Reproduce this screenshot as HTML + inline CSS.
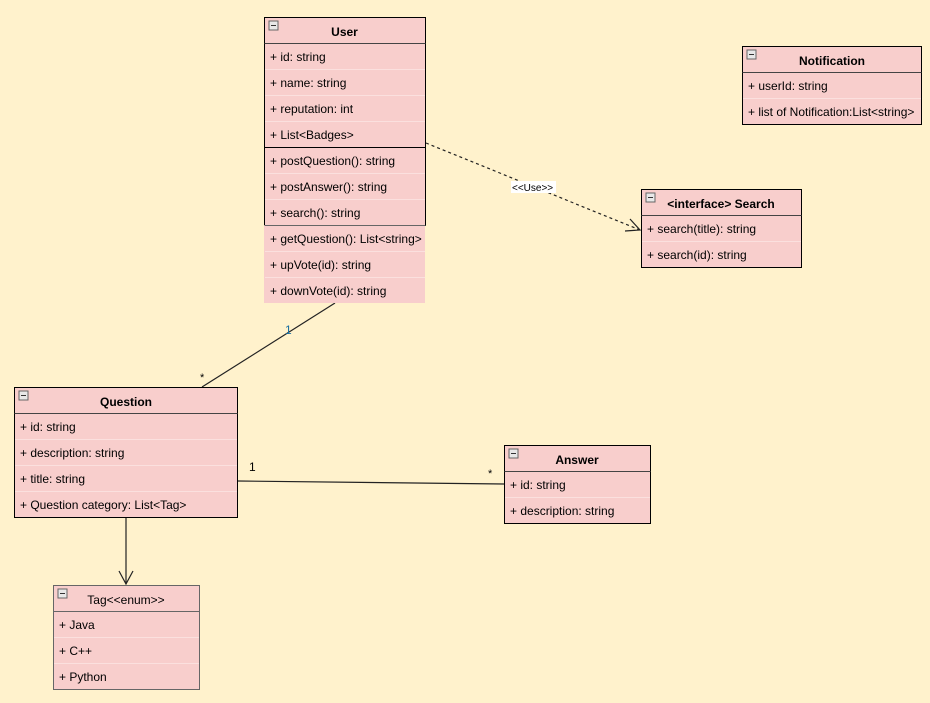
<!DOCTYPE html>
<html><head><meta charset="utf-8"><style>
html,body{margin:0;padding:0;background:#fff2cc;}
svg{display:block;font-family:"Liberation Sans",sans-serif;font-size:12px;}
</style></head><body>
<svg width="930" height="703" viewBox="0 0 930 703" xmlns="http://www.w3.org/2000/svg">
<rect width="930" height="703" fill="#fff2cc"/>
<defs>
<g id="mn"><rect x="0" y="0" width="9" height="9" fill="#e8e8e8" stroke="#666" stroke-width="1"/><line x1="2" y1="4.5" x2="7" y2="4.5" stroke="#333"/></g>
</defs>

<!-- connectors -->
<line x1="335" y1="303" x2="202" y2="387" stroke="#222" stroke-width="1.2"/>
<text x="285" y="334" fill="#1a6fa0" font-size="12">1</text>
<text x="200" y="381" fill="#000" font-size="11">*</text>
<line x1="238" y1="481" x2="504" y2="484" stroke="#222" stroke-width="1.2"/>
<text x="249" y="471" fill="#000">1</text>
<text x="488" y="477" fill="#000" font-size="11">*</text>
<line x1="126" y1="517" x2="126" y2="584" stroke="#222" stroke-width="1.2"/>
<polyline points="119,571 126,584 133,571" fill="none" stroke="#222" stroke-width="1.2"/>
<line x1="426" y1="143" x2="640" y2="230" stroke="#222" stroke-width="1.2" stroke-dasharray="3,3"/>
<polyline points="630,219 640,230 625,231" fill="none" stroke="#222" stroke-width="1.2"/>
<rect x="511" y="181" width="45" height="12" fill="#fff"/>
<text x="512" y="191" font-size="10" fill="#000">&lt;&lt;Use&gt;&gt;</text>

<!-- User -->
<rect x="264.5" y="17.5" width="161" height="208" fill="#f8cecc" stroke="#000"/>
<rect x="264" y="225" width="161" height="78" fill="#f8cecc"/>
<line x1="264.5" y1="225.5" x2="425.5" y2="225.5" stroke="#666"/>
<line x1="264.5" y1="43.5" x2="425.5" y2="43.5" stroke="#444"/>
<line x1="264.5" y1="147.5" x2="425.5" y2="147.5" stroke="#000"/>
<g stroke="#fbe0de"><line x1="265" y1="69.5" x2="425" y2="69.5"/><line x1="265" y1="95.5" x2="425" y2="95.5"/><line x1="265" y1="121.5" x2="425" y2="121.5"/><line x1="265" y1="173.5" x2="425" y2="173.5"/><line x1="265" y1="199.5" x2="425" y2="199.5"/><line x1="265" y1="251.5" x2="425" y2="251.5"/><line x1="265" y1="277.5" x2="425" y2="277.5"/></g>
<use href="#mn" x="269" y="21"/>
<text x="344.5" y="36" text-anchor="middle" font-weight="bold">User</text>
<text x="270" y="61">+ id: string</text>
<text x="270" y="87">+ name: string</text>
<text x="270" y="113">+ reputation: int</text>
<text x="270" y="139">+ List&lt;Badges&gt;</text>
<text x="270" y="165">+ postQuestion(): string</text>
<text x="270" y="191">+ postAnswer(): string</text>
<text x="270" y="217">+ search(): string</text>
<text x="270" y="243">+ getQuestion(): List&lt;string&gt;</text>
<text x="270" y="269">+ upVote(id): string</text>
<text x="270" y="295">+ downVote(id): string</text>

<!-- Notification -->
<rect x="742.5" y="46.5" width="179" height="78" fill="#f8cecc" stroke="#000"/>
<line x1="742.5" y1="72.5" x2="921.5" y2="72.5" stroke="#444"/>
<line x1="743" y1="98.5" x2="921" y2="98.5" stroke="#fbe0de"/>
<use href="#mn" x="747" y="50"/>
<text x="832" y="65" text-anchor="middle" font-weight="bold">Notification</text>
<text x="748" y="90">+ userId: string</text>
<text x="748" y="116">+ list of Notification:List&lt;string&gt;</text>

<!-- Search -->
<rect x="641.5" y="189.5" width="160" height="78" fill="#f8cecc" stroke="#000"/>
<line x1="641.5" y1="215.5" x2="801.5" y2="215.5" stroke="#444"/>
<line x1="642" y1="241.5" x2="801" y2="241.5" stroke="#fbe0de"/>
<use href="#mn" x="646" y="193"/>
<text x="721" y="208" text-anchor="middle" font-weight="bold">&lt;interface&gt; Search</text>
<text x="647" y="233">+ search(title): string</text>
<text x="647" y="259">+ search(id): string</text>

<!-- Question -->
<rect x="14.5" y="387.5" width="223" height="130" fill="#f8cecc" stroke="#000"/>
<line x1="14.5" y1="413.5" x2="237.5" y2="413.5" stroke="#444"/>
<g stroke="#fbe0de"><line x1="15" y1="439.5" x2="237" y2="439.5"/><line x1="15" y1="465.5" x2="237" y2="465.5"/><line x1="15" y1="491.5" x2="237" y2="491.5"/></g>
<use href="#mn" x="19" y="391"/>
<text x="126" y="406" text-anchor="middle" font-weight="bold">Question</text>
<text x="20" y="431">+ id: string</text>
<text x="20" y="457">+ description: string</text>
<text x="20" y="483">+ title: string</text>
<text x="20" y="509">+ Question category: List&lt;Tag&gt;</text>

<!-- Answer -->
<rect x="504.5" y="445.5" width="146" height="78" fill="#f8cecc" stroke="#000"/>
<line x1="504.5" y1="471.5" x2="650.5" y2="471.5" stroke="#444"/>
<line x1="505" y1="497.5" x2="650" y2="497.5" stroke="#fbe0de"/>
<use href="#mn" x="509" y="449"/>
<text x="577" y="464" text-anchor="middle" font-weight="bold">Answer</text>
<text x="510" y="489">+ id: string</text>
<text x="510" y="515">+ description: string</text>

<!-- Tag -->
<rect x="53.5" y="585.5" width="146" height="104" fill="#f8cecc" stroke="#666"/>
<line x1="53.5" y1="611.5" x2="199.5" y2="611.5" stroke="#666"/>
<g stroke="#fbe0de"><line x1="54" y1="637.5" x2="199" y2="637.5"/><line x1="54" y1="663.5" x2="199" y2="663.5"/></g>
<use href="#mn" x="58" y="589"/>
<text x="126" y="604" text-anchor="middle">Tag&lt;&lt;enum&gt;&gt;</text>
<text x="59" y="629">+ Java</text>
<text x="59" y="655">+ C++</text>
<text x="59" y="681">+ Python</text>
</svg>
</body></html>
